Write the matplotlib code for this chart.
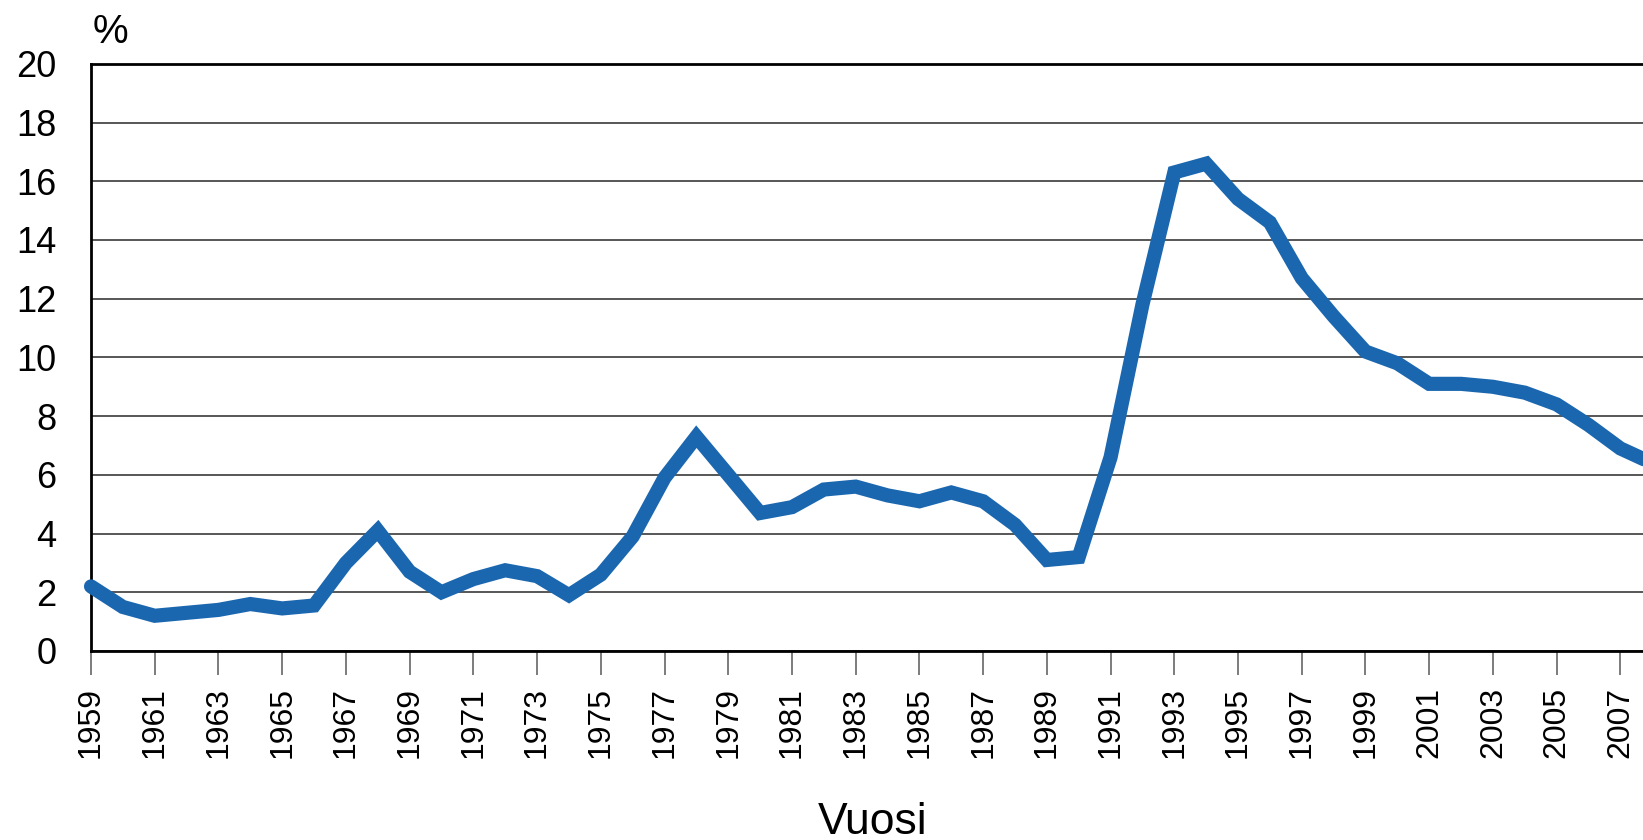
import matplotlib
matplotlib.use("Agg")
import matplotlib.pyplot as plt

plt.rcParams['font.family'] = ['Liberation Sans', 'DejaVu Sans']

# Data
years = list(range(1959, 2009))
rate = [2.2, 1.5, 1.2, 1.3, 1.4, 1.6, 1.45, 1.55, 3.0, 4.1,
        2.7, 2.0, 2.45, 2.75, 2.55, 1.9, 2.6, 3.9, 5.9, 7.3,
        6.0, 4.7, 4.9, 5.5, 5.6, 5.3, 5.1, 5.4, 5.1, 4.3,
        3.1, 3.2, 6.6, 11.8, 16.3, 16.6, 15.4, 14.6, 12.7, 11.4,
        10.2, 9.8, 9.1, 9.1, 9.0, 8.8, 8.4, 7.7, 6.9, 6.4]
tick_years = list(range(1959, 2008, 2))
y_ticks = list(range(0, 21, 2))

fig = plt.figure(figsize=(16.43, 8.40), dpi=100)
# axes runs past the right edge of the figure, as in the original
ax = fig.add_axes([0.0554, 0.225, 0.989, 0.699])

ax.plot(years, rate, color='#1a67b0', lw=10.2, solid_capstyle='round',
        solid_joinstyle='miter', zorder=3, clip_on=False)

ax.set_xlim(1959, 2010)
ax.set_ylim(0, 20)
ax.set_yticks(y_ticks)
ax.set_xticks(tick_years)
ax.set_xticklabels([str(y) for y in tick_years], rotation=90)

ax.yaxis.grid(True, color='#3a3a3a', lw=1.2)
ax.set_axisbelow(True)
for s in ['left', 'bottom', 'top']:
    ax.spines[s].set_linewidth(2)
    ax.spines[s].set_color('black')
ax.spines['right'].set_visible(False)

ax.tick_params(axis='y', length=0, pad=25, labelsize=26)
ax.tick_params(axis='x', length=17, width=1.2, color='#666666',
               pad=9, labelsize=23)

fig.text(0.067, 0.962, '%', fontsize=29, ha='center', va='center')
fig.text(0.531, 0.021, 'Vuosi', fontsize=32, ha='center', va='center')

fig.savefig('out.png', dpi=100)
